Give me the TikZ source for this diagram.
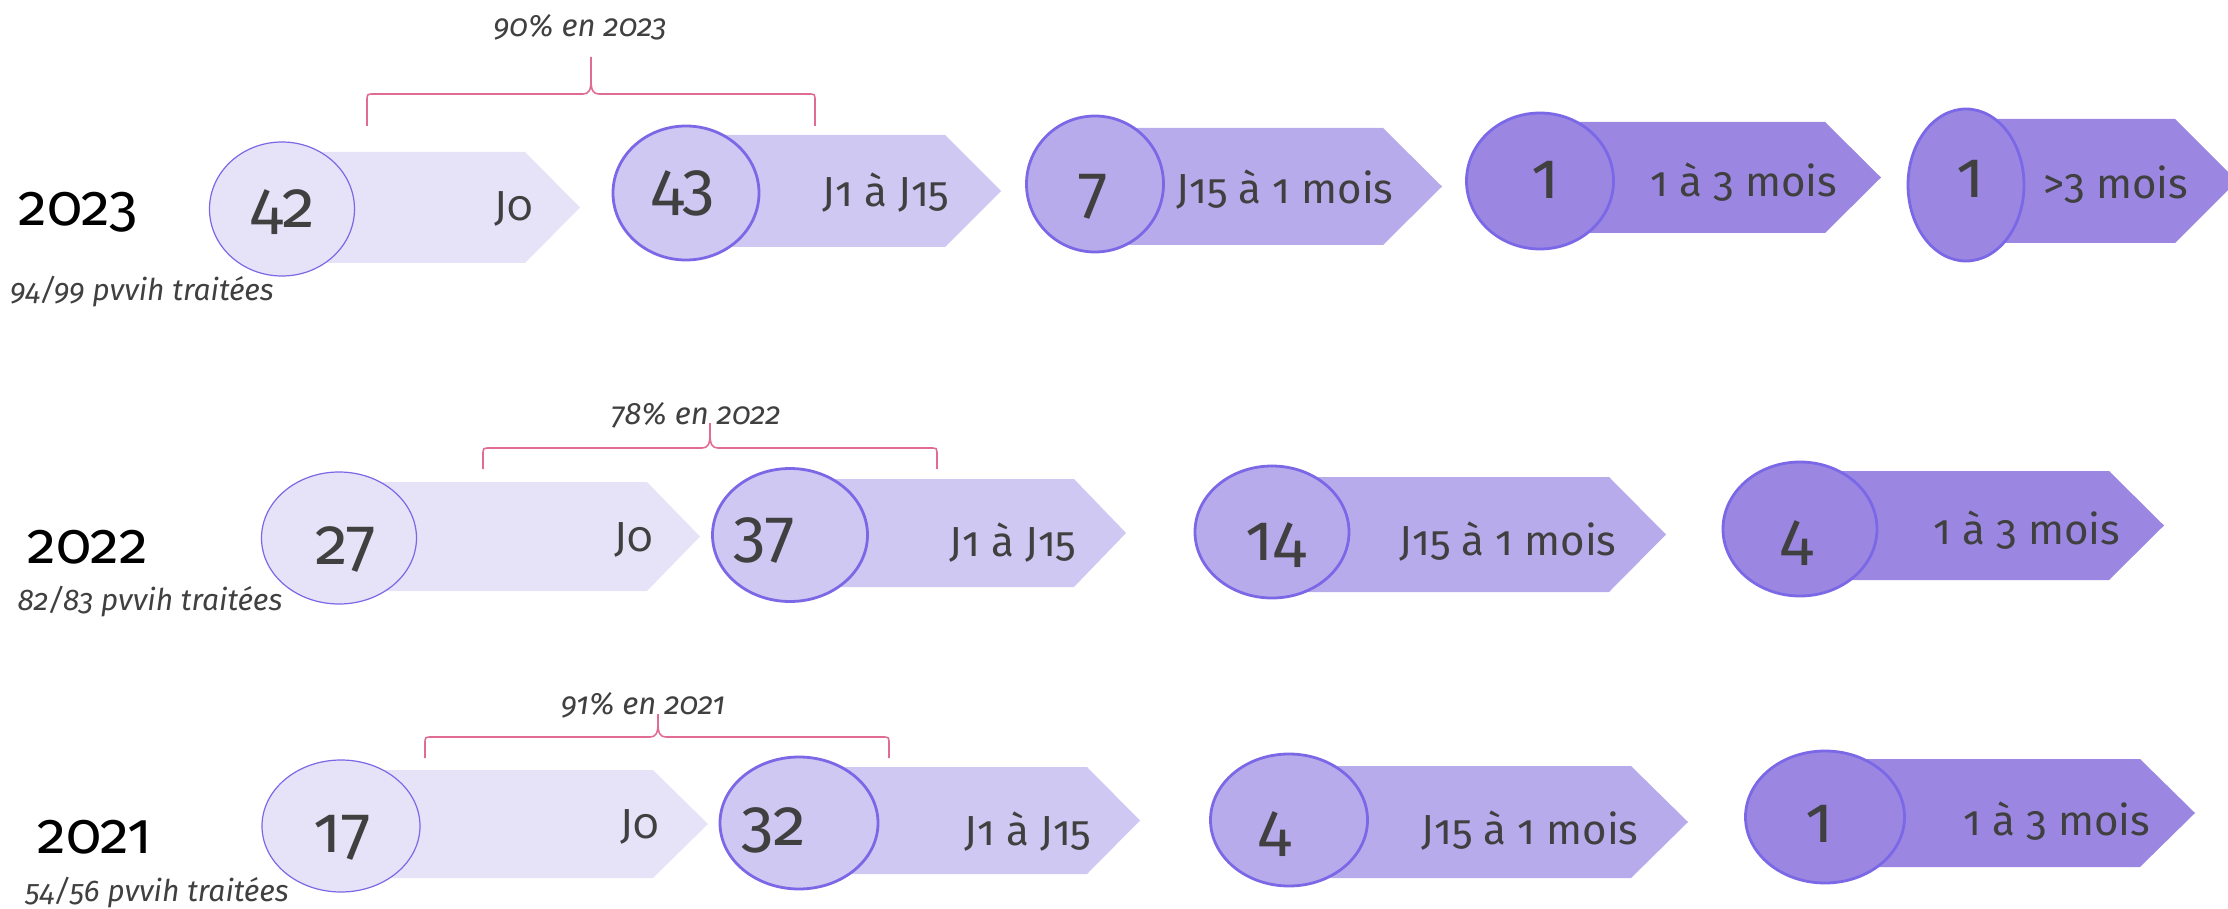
\documentclass[tikz,border=0pt]{standalone}
\usepackage{fontspec}
\setmainfont{Fira Sans}[Numbers=OldStyle]
\usetikzlibrary{shapes.geometric}
\definecolor{cA}{HTML}{E6E3F8}
\definecolor{cB}{HTML}{CFC8F2}
\definecolor{cC}{HTML}{B8ABEC}
\definecolor{cD}{HTML}{9B87E2}
\definecolor{edge}{HTML}{7B68E6}
\definecolor{brc}{HTML}{E06C92}
\definecolor{txt}{HTML}{404040}
\tikzset{
  ell/.style={ellipse, draw=edge, line width=1.4pt, inner sep=0pt},
  ellthin/.style={ell, line width=0.6pt},
  num/.style={text=txt, font=\fontsize{33}{36}\selectfont, inner sep=0pt},
  lab/.style={text=txt, font=\fontsize{21}{24}\selectfont, inner sep=0pt},
  year/.style={text=black, font=\fontsize{29}{32}\selectfont, inner sep=0pt},
  sub/.style={text=txt, font=\fontsize{15}{18}\selectfont\itshape, inner sep=0pt},
  pct/.style={text=txt, font=\fontsize{15.5}{18}\selectfont\itshape, inner sep=0pt},
  brace/.style={draw=brc, line width=0.8pt},
}
% arrow body: #1 fill, #2 left x, #3 top, #4 bottom, #5 right, #6 tip
\newcommand\arrbody[6]{\fill[#1] (#2,#3) -- (#5,#3) -- (#6,{(#3+#4)/2}) -- (#5,#4) -- (#2,#4) -- cycle;}
% brace: #1 L, #2 R, #3 M, #4 H, #5 T, #6 B
\newcommand\mybrace[6]{\draw[brace] (#1,#6) -- (#1,#4+7) .. controls (#1,#4) .. (#1+7,#4) -- (#3-8,#4) .. controls (#3-2,#4) and (#3,#4-4) .. (#3,#4-14) -- (#3,#5)
  (#3,#4-14) .. controls (#3,#4-4) and (#3+2,#4) .. (#3+8,#4) -- (#2-7,#4) .. controls (#2,#4) .. (#2,#4+7) -- (#2,#6);}
\begin{document}
\begin{tikzpicture}[x=0.5pt,y=-0.5pt]
\useasboundingbox (0,0) rectangle (2228,909);
\clip (0,0) rectangle (2228,909);

% ---------------- 2023 ----------------
\node[year] (y23) at (78,212) {2023};
\node[sub] (s23) at (142,292) {94/99 pvvih traitées};
\node[pct] (p23) at (580,27) {90\% en 2023};
\mybrace{367}{815}{591}{94}{57}{126}

\arrbody{cA}{282}{152}{263}{525}{580}
\node[ellthin, fill=cA, minimum width=72.5pt, minimum height=67pt] (e231) at (282,209) {};
\node[num] (n231) at (283,212) {42};
\node[lab] (l231) at (514,209) {J0};

\arrbody{cB}{686}{135}{247}{945}{1001}
\node[ell, fill=cB, minimum width=73pt, minimum height=67pt] (e232) at (686,193) {};
\node[num] (n232) at (683,193) {43};
\node[lab] (l232) at (886,193) {J1 à J15};

\arrbody{cC}{1095}{128}{245}{1383}{1442}
\node[ell, fill=cC, minimum width=68.5pt, minimum height=68pt] (e233) at (1095,184) {};
\node[num] (n233) at (1093,197) {7};
\node[lab] (l233) at (1285,190) {J15 à 1 mois};

\arrbody{cD}{1540}{122}{233}{1825}{1881}
\node[ell, fill=cD, minimum width=73.5pt, minimum height=68pt] (e234) at (1540,181) {};
\node[num] (n234) at (1545,180) {1};
\node[lab] (l234) at (1744,182) {1 à 3 mois};

\arrbody{cD}{1966}{119}{243}{2175}{2237}
\node[ell, fill=cD, minimum width=58pt, minimum height=76pt] (e235) at (1966,185) {};
\node[num] (n235) at (1970,179) {1};
\node[lab] (l235) at (2116,185) {>3 mois};

% ---------------- 2022 ----------------
\node[year] (y22) at (88,547) {2022};
\node[sub] (s22) at (150,602) {82/83 pvvih traitées};
\node[pct] (p22) at (696,415) {78\% en 2022};
\mybrace{483}{937}{710}{448}{423}{469}

\arrbody{cA}{339}{482}{591}{647}{700}
\node[ellthin, fill=cA, minimum width=77.5pt, minimum height=66pt] (e221) at (339,538) {};
\node[num] (n221) at (346,549) {27};
\node[lab] (l221) at (634,540) {J0};

\arrbody{cB}{790}{479}{587}{1074}{1126}
\node[ell, fill=cB, minimum width=77.5pt, minimum height=66.5pt] (e222) at (790,535) {};
\node[num] (n222) at (764,540) {37};
\node[lab] (l222) at (1013,543) {J1 à J15};

\arrbody{cC}{1272}{477}{592}{1609}{1666}
\node[ell, fill=cC, minimum width=77pt, minimum height=66pt] (e223) at (1272,532) {};
\node[num] (n223) at (1276,545) {14};
\node[lab] (l223) at (1508,542) {J15 à 1 mois};

\arrbody{cD}{1800}{471}{580}{2109}{2164}
\node[ell, fill=cD, minimum width=77pt, minimum height=67pt] (e224) at (1800,529) {};
\node[num] (n224) at (1797,543) {4};
\node[lab] (l224) at (2027,530) {1 à 3 mois};

% ---------------- 2021 ----------------
\node[year] (y21) at (95,837) {2021};
\node[sub] (s21) at (157,893) {54/56 pvvih traitées};
\node[pct] (p21) at (643,705) {91\% en 2021};
\mybrace{425}{889}{658}{737}{714}{758}

\arrbody{cA}{341}{770}{878}{653}{708}
\node[ellthin, fill=cA, minimum width=79pt, minimum height=66pt] (e211) at (341,826) {};
\node[num] (n211) at (342,838) {17};
\node[lab] (l211) at (640,827) {J0};

\arrbody{cB}{799}{767}{874}{1087}{1140}
\node[ell, fill=cB, minimum width=79pt, minimum height=66pt] (e212) at (799,823) {};
\node[num] (n212) at (774,830) {32};
\node[lab] (l212) at (1028,832) {J1 à J15};

\arrbody{cC}{1289}{766}{878}{1631}{1688}
\node[ell, fill=cC, minimum width=78.5pt, minimum height=66pt] (e213) at (1289,820) {};
\node[num] (n213) at (1275,834) {4};
\node[lab] (l213) at (1530,831) {J15 à 1 mois};

\arrbody{cD}{1825}{759}{867}{2140}{2195}
\node[ell, fill=cD, minimum width=79.5pt, minimum height=66pt] (e214) at (1825,817) {};
\node[num] (n214) at (1819,824) {1};
\node[lab] (l214) at (2057,821) {1 à 3 mois};
\end{tikzpicture}
\end{document}
